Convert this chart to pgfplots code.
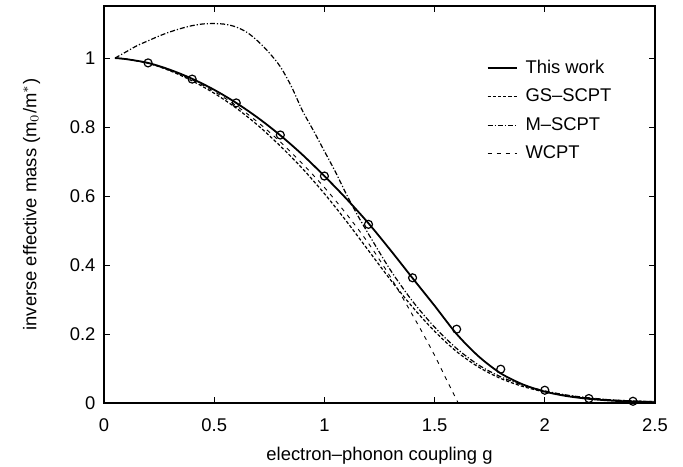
\documentclass[border=0pt]{standalone}
\usepackage{pgfplots}
\pgfplotsset{compat=1.18}
\usepackage{fontspec}
\setmainfont{Liberation Sans}
\begin{document}
\fontsize{9.2}{11}\selectfont
\begin{tikzpicture}
\begin{axis}[
  name=ax,
  scale only axis,
  width=275.5pt, height=198.5pt,
  xmin=0, xmax=2.5, ymin=0, ymax=1.151,
  xtick={0,0.5,1,1.5,2,2.5},
  ytick={0,0.2,0.4,0.6,0.8,1},
  tick align=inside,
  major tick length=3pt,
  axis line style={line width=0.6pt},
  tick style={line width=0.5pt, black},
  /pgf/number format/assume math mode=true,
  ticklabel style={font=\fontsize{9.2}{11}\selectfont},
  xticklabel style={yshift=-4.5pt},
  yticklabel style={xshift=-1pt},
  label style={font=\fontsize{9.2}{11}\selectfont},
  xlabel={electron--phonon coupling g},
  xlabel style={yshift=-1.5pt},
  ylabel={inverse effective mass (m$_0$/m$^*$)},
  ylabel style={yshift=8.5pt},
  legend cell align=left,
  legend style={draw=none, fill=none, at={(rel axis cs:0.683,0.885)}, anchor=north west,
    font=\fontsize{9.2}{11}\selectfont, row sep=2.4pt},
  legend image code/.code={\draw[#1] (0pt,0pt) -- (14.5pt,0pt); \path (16.5pt,0pt);},
]
\addplot[black, line width=0.9pt, smooth] coordinates {
(0.05,1.0) (0.1,0.997) (0.2,0.986) (0.3,0.966) (0.4,0.940) (0.5,0.908) (0.6,0.870)
(0.7,0.826) (0.8,0.776) (0.9,0.72) (1.0,0.658) (1.1,0.592) (1.2,0.521) (1.3,0.443)
(1.4,0.362) (1.5,0.282) (1.6,0.200) (1.7,0.135) (1.8,0.086) (1.9,0.054) (2.0,0.033)
(2.1,0.020) (2.2,0.012) (2.3,0.007) (2.4,0.004) (2.5,0.002)};
\addlegendentry{This work}
\addplot[black, line width=0.6pt, smooth, dash pattern=on 1.6pt off 1pt] coordinates {
(0.05,1.0) (0.1,0.997) (0.2,0.985) (0.3,0.963) (0.4,0.934) (0.5,0.898) (0.6,0.855)
(0.7,0.804) (0.8,0.745) (0.9,0.68) (1.0,0.607) (1.1,0.527) (1.2,0.442) (1.3,0.357)
(1.4,0.278) (1.5,0.208) (1.6,0.149) (1.7,0.104) (1.8,0.071) (1.9,0.048) (2.0,0.032)
(2.1,0.022) (2.2,0.014) (2.3,0.009) (2.4,0.006) (2.5,0.004)};
\addlegendentry{GS--SCPT}
\addplot[black, line width=0.6pt, smooth, dash pattern=on 2.5pt off 1pt on 0.6pt off 1pt] coordinates {
(0.05,1.0) (0.1,1.018) (0.15,1.036) (0.2,1.05) (0.25,1.064) (0.3,1.076) (0.35,1.086)
(0.4,1.094) (0.45,1.099) (0.5,1.1) (0.55,1.098) (0.6,1.09) (0.65,1.074) (0.7,1.048)
(0.75,1.015) (0.8,0.975) (0.85,0.918) (0.9,0.848) (0.95,0.79) (1.0,0.73) (1.05,0.67)
(1.1,0.605) (1.15,0.545) (1.2,0.49) (1.3,0.385) (1.4,0.295) (1.5,0.22) (1.6,0.158)
(1.7,0.11) (1.8,0.076) (1.9,0.052) (2.0,0.035) (2.1,0.023) (2.2,0.015) (2.3,0.009)
(2.4,0.006) (2.5,0.004)};
\addlegendentry{M--SCPT}
\addplot[black, line width=0.45pt, smooth, dash pattern=on 2pt off 2.5pt] coordinates {
(0.05,1.0) (0.1,0.997) (0.2,0.985) (0.3,0.964) (0.4,0.937) (0.5,0.903) (0.6,0.862)
(0.7,0.813) (0.8,0.757) (0.9,0.694) (1.0,0.625) (1.1,0.548) (1.2,0.463) (1.3,0.365)
(1.4,0.255) (1.45,0.198) (1.5,0.138) (1.55,0.073) (1.607,0.0)};
\addlegendentry{WCPT}
\addplot[black, only marks, mark=o, mark size=2pt, mark options={line width=0.6pt}, forget plot] coordinates {
(0.2,0.986) (0.4,0.939) (0.6,0.870) (0.8,0.777) (1.0,0.658) (1.2,0.518) (1.4,0.363)
(1.6,0.214) (1.8,0.098) (2.0,0.037) (2.2,0.013) (2.4,0.005)};
\end{axis}
\pgfresetboundingbox
\path ([xshift=-52pt,yshift=-31.5pt]ax.south west) rectangle ([xshift=289.5pt,yshift=201.5pt]ax.south west);
\end{tikzpicture}
\end{document}
